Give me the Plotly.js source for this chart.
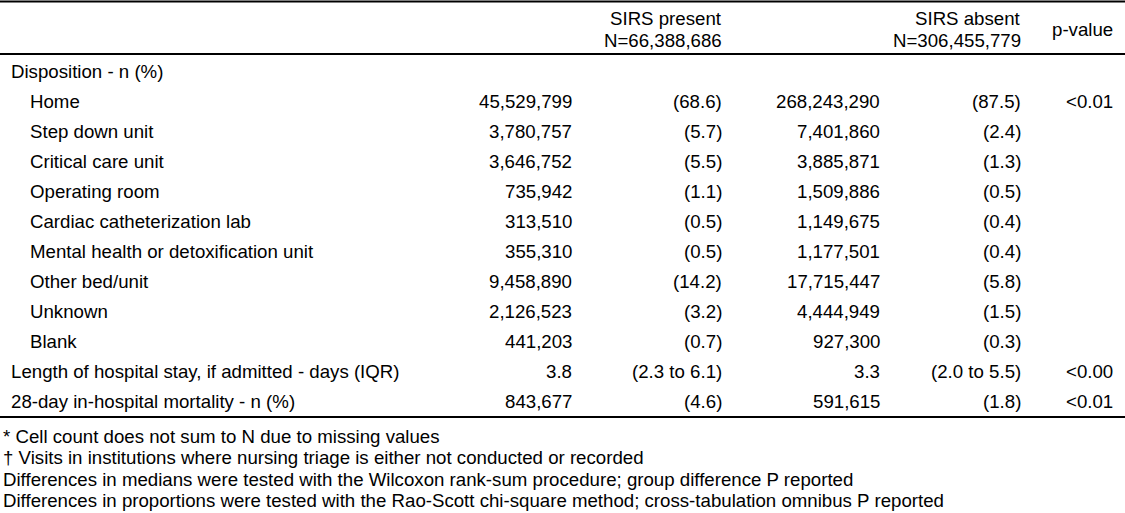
<!DOCTYPE html>
<html><head><meta charset="utf-8">
<script src="https://cdn.plot.ly/plotly-3.0.1.min.js"></script>
<style>html,body{margin:0;padding:0;background:#fff}#chart{width:1125px;height:513px}</style>
</head><body><div id="chart"></div>
<script>
const headerPresent = ["SIRS present", "N=66,388,686"];
const headerAbsent = ["SIRS absent", "N=306,455,779"];
const headerP = "p-value";
const rowLabels = ["Disposition - n (%)", "Home", "Step down unit", "Critical care unit", "Operating room",
  "Cardiac catheterization lab", "Mental health or detoxification unit", "Other bed/unit", "Unknown", "Blank",
  "Length of hospital stay, if admitted - days (IQR)", "28-day in-hospital mortality - n (%)"];
const rowIndent = [0, 1, 1, 1, 1, 1, 1, 1, 1, 1, 0, 0];
const presentN = ["", "45,529,799", "3,780,757", "3,646,752", "735,942", "313,510", "355,310", "9,458,890", "2,126,523", "441,203", "3.8", "843,677"];
const presentPct = ["", "(68.6)", "(5.7)", "(5.5)", "(1.1)", "(0.5)", "(0.5)", "(14.2)", "(3.2)", "(0.7)", "(2.3 to 6.1)", "(4.6)"];
const absentN = ["", "268,243,290", "7,401,860", "3,885,871", "1,509,886", "1,149,675", "1,177,501", "17,715,447", "4,444,949", "927,300", "3.3", "591,615"];
const absentPct = ["", "(87.5)", "(2.4)", "(1.3)", "(0.5)", "(0.4)", "(0.4)", "(5.8)", "(1.5)", "(0.3)", "(2.0 to 5.5)", "(1.8)"];
const pValues = ["", "<0.01", "", "", "", "", "", "", "", "", "<0.00", "<0.01"];
const footnotes = ["* Cell count does not sum to N due to missing values",
  "\u2020 Visits in institutions where nursing triage is either not conducted or recorded",
  "Differences in medians were tested with the Wilcoxon rank-sum procedure; group difference P reported",
  "Differences in proportions were tested with the Rao-Scott chi-square method; cross-tabulation omnibus P reported"];

const FONT = {family: "Liberation Sans, Arial, sans-serif", size: 18.67, color: "#000"};
const colX = [573, 723, 881, 1022, 1114];
const rowY0 = 71, rowStep = 30;
const footY0 = 436, footStep = 21.5;
const ann = [];
function add(x, y, text, anchor) {
  if (!text) return;
  ann.push({x: x, y: y, xref: "x", yref: "y", text: text, showarrow: false, xanchor: anchor, yanchor: "middle",
    font: FONT, borderpad: 0});
}
add(colX[1], 18, headerPresent[0], "right");
add(colX[1], 40, headerPresent[1], "right");
add(colX[3], 18, headerAbsent[0], "right");
add(colX[3], 40, headerAbsent[1], "right");
add(colX[4], 29, headerP, "right");
rowLabels.forEach((lab, i) => {
  const y = rowY0 + i * rowStep;
  add(rowIndent[i] ? 29 : 10, y, lab, "left");
  add(colX[0], y, presentN[i], "right");
  add(colX[1], y, presentPct[i], "right");
  add(colX[2], y, absentN[i], "right");
  add(colX[3], y, absentPct[i], "right");
  add(colX[4], y, pValues[i], "right");
});
footnotes.forEach((t, i) => add(2, footY0 + i * footStep, t, "left"));

function hline(y) {
  return {type: "line", xref: "x", yref: "y", x0: 0, x1: 1125, y0: y, y1: y, line: {color: "#000", width: 2}};
}
const layout = {
  width: 1125, height: 513, margin: {l: 0, r: 0, t: 0, b: 0},
  paper_bgcolor: "#fff", plot_bgcolor: "#fff", showlegend: false,
  xaxis: {range: [0, 1125], visible: false, fixedrange: true},
  yaxis: {range: [513, 0], visible: false, fixedrange: true},
  annotations: ann,
  shapes: [hline(1.5), hline(54), hline(417)]
};
Plotly.newPlot("chart", [], layout, {staticPlot: true});
</script></body></html>
